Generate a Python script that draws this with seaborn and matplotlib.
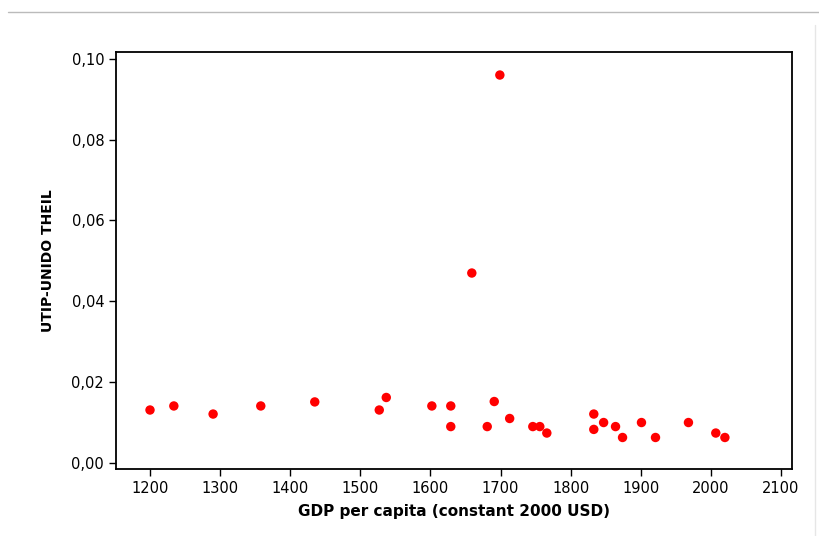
import matplotlib
matplotlib.use("Agg")
import matplotlib.pyplot as plt
import seaborn as sns
import pandas as pd
from matplotlib.lines import Line2D

gdp = [1200, 1234, 1290, 1358, 1435, 1527, 1537, 1602, 1629, 1629,
       1659, 1681, 1691, 1699, 1713, 1746, 1756, 1766, 1833, 1833,
       1847, 1864, 1874, 1901, 1921, 1968, 2007, 2020]
theil = [0.0131, 0.0141, 0.0121, 0.0141, 0.0151, 0.0131, 0.0162, 0.0141, 0.0141, 0.0090,
         0.0470, 0.0090, 0.0152, 0.0960, 0.0110, 0.0090, 0.0090, 0.0074, 0.0121, 0.0083,
         0.0100, 0.0090, 0.0063, 0.0100, 0.0063, 0.0100, 0.0074, 0.0063]
x_ticks = [1200, 1300, 1400, 1500, 1600, 1700, 1800, 1900, 2000, 2100]
y_ticks = [0.00, 0.02, 0.04, 0.06, 0.08, 0.10]
y_tick_labels = ["0,00", "0,02", "0,04", "0,06", "0,08", "0,10"]
x_label = "GDP per capita (constant 2000 USD)"
y_label = "UTIP-UNIDO THEIL"

df = pd.DataFrame({"gdp": gdp, "theil": theil})

sns.set_style("white")
plt.rcParams["font.family"] = ["DejaVu Sans"]
plt.rcParams["text.color"] = "black"
plt.rcParams["axes.labelcolor"] = "black"

fig = plt.figure(figsize=(8.19, 5.36), dpi=100)
ax = fig.add_axes([116/819, 1 - 469/536, (792-116)/819, (469-52)/536])

sns.scatterplot(data=df, x="gdp", y="theil", ax=ax, color="#ff0000",
                s=46, edgecolor="none", linewidth=0)

ax.set_xlim(1151.5, 2115.7)
ax.set_ylim(-0.0015, 0.1017)
ax.set_xticks(x_ticks)
ax.set_xticklabels([str(v) for v in x_ticks])
ax.set_yticks(y_ticks)
ax.set_yticklabels(y_tick_labels)
ax.tick_params(axis="both", which="major", direction="out", length=5, width=1,
               color="black", labelsize=10.5, labelcolor="black", bottom=True, left=True)
for sp in ax.spines.values():
    sp.set_visible(True)
    sp.set_color("black")
    sp.set_linewidth(1.3)

ax.set_xlabel(x_label, fontsize=11, fontweight="bold", labelpad=6, color="black")
ax.set_ylabel(y_label, fontsize=10, fontweight="bold", labelpad=12, color="black")

# page frame artifacts
fig.add_artist(Line2D([8/819, 1], [1 - 12/536, 1 - 12/536], transform=fig.transFigure,
                      color="#bbbbbb", linewidth=1))
fig.add_artist(Line2D([815/819, 815/819], [1 - 25/536, 0], transform=fig.transFigure,
                      color="#e6e6e6", linewidth=1))

fig.savefig("out.png", dpi=100)
